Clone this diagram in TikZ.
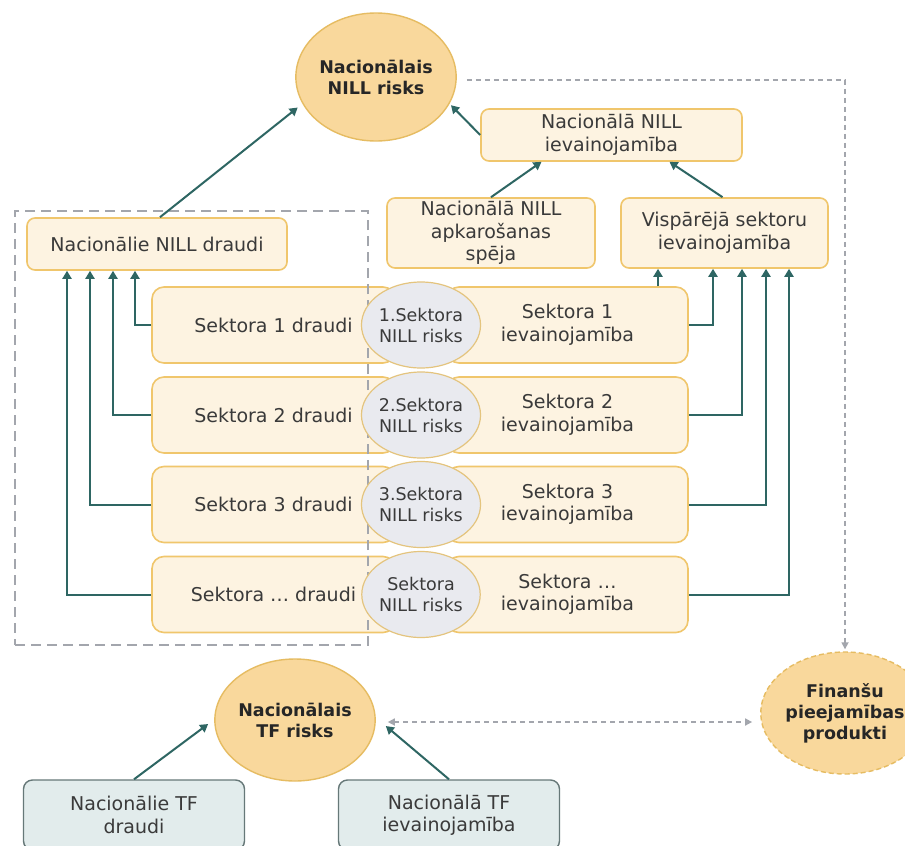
\documentclass[tikz,border=0pt]{standalone}
\usepackage{fontspec}
\setmainfont{DejaVu Sans}
\usetikzlibrary{arrows.meta,shapes.geometric,calc}
\definecolor{boxfill}{HTML}{FDF3E1}
\definecolor{boxline}{HTML}{F0C66C}
\definecolor{bigfill}{HTML}{F9D89C}
\definecolor{bigline}{HTML}{E6BC62}
\definecolor{smallfill}{HTML}{E9EAEF}
\definecolor{smallline}{HTML}{E4C47E}
\definecolor{tffill}{HTML}{E2ECEC}
\definecolor{tfline}{HTML}{667878}
\definecolor{conn}{HTML}{2E6663}
\definecolor{gdashc}{HTML}{A3A6AD}
\definecolor{txt}{HTML}{3A3A3A}
\begin{document}
\begin{tikzpicture}[x=1pt,y=-1pt,
 every node/.style={text=txt, font=\fontsize{19}{22.5}\selectfont, align=center, inner sep=0pt},
 ybox/.style={draw=boxline, fill=boxfill, line width=1.6pt, rounded corners=8pt},
 secbox/.style={ybox, rounded corners=12pt, minimum height=76pt},
 bigc/.style={ellipse, draw=bigline, fill=bigfill, line width=1.4pt, font=\fontsize{17.5}{21}\selectfont\bfseries, text=black!85},
 smallc/.style={ellipse, draw=smallline, fill=smallfill, line width=1.2pt, minimum width=98pt, minimum height=86pt, font=\fontsize{17.5}{21}\selectfont},
 tfbox/.style={draw=tfline, fill=tffill, line width=1.4pt, rounded corners=9pt, minimum width=221pt, minimum height=70pt},
 arr/.style={draw=conn, line width=2pt, -{Triangle[length=8pt,width=9pt]}},
 gdash/.style={draw=gdashc, line width=1.6pt, dash pattern=on 5pt off 4pt, -{Triangle[length=7pt,width=7pt]}},
 grpbox/.style={draw=gdashc, line width=2.6pt, dash pattern=on 10pt off 6pt}
]
\useasboundingbox (0,0) rectangle (905,846);
\clip (0,0) rectangle (905,846);
\fill[white] (0,0) rectangle (905,846);

% top level
\node[bigc, minimum width=128pt, minimum height=128pt] (cNILL) at (376,77) {Nacionālais\\NILL risks};
\node[ybox, minimum width=261pt, minimum height=52pt] (nv) at (611.5,135) {Nacionālā NILL\\ievainojamība};
\node[ybox, minimum width=208pt, minimum height=70pt] (apk) at (491,233) {Nacionālā NILL\\apkarošanas\\spēja};
\node[ybox, minimum width=207pt, minimum height=70pt] (vis) at (724.5,233) {Vispārējā sektoru\\ievainojamība};
\node[ybox, minimum width=260pt, minimum height=52pt] (nd) at (157,244) {Nacionālie NILL draudi};

% sector rows: boxes
\node[secbox, minimum width=243pt] (l1) at (273.5,325) {Sektora 1 draudi};
\node[secbox, minimum width=241pt] (r1) at (567.5,325) {Sektora 1\\ievainojamība};
\node[secbox, minimum width=243pt] (l2) at (273.5,415) {Sektora 2 draudi};
\node[secbox, minimum width=241pt] (r2) at (567.5,415) {Sektora 2\\ievainojamība};
\node[secbox, minimum width=243pt] (l3) at (273.5,504.5) {Sektora 3 draudi};
\node[secbox, minimum width=241pt] (r3) at (567.5,504.5) {Sektora 3\\ievainojamība};
\node[secbox, minimum width=243pt] (l4) at (273.5,594.5) {Sektora … draudi};
\node[secbox, minimum width=241pt] (r4) at (567.5,594.5) {Sektora …\\ievainojamība};

% dashed group frame
\node[grpbox, minimum width=353pt, minimum height=434pt] (grp) at (191.5,428) {};

% sector risk circles
\node[smallc] (c1) at (421,325) {1.Sektora\\NILL risks};
\node[smallc] (c2) at (421,415) {2.Sektora\\NILL risks};
\node[smallc] (c3) at (421,504.5) {3.Sektora\\NILL risks};
\node[smallc] (c4) at (421,594.5) {Sektora\\NILL risks};

% bottom part
\node[bigc, minimum width=128pt, minimum height=122pt] (ctf) at (295,720) {Nacionālais\\TF risks};
\node[bigc, dash pattern=on 5pt off 3pt, minimum width=128pt, minimum height=122pt] (fin) at (845,713) {Finanšu\\pieejamības\\produkti};
\node[tfbox] (tf1) at (134,815) {Nacionālie TF\\draudi};
\node[tfbox] (tf2) at (449,815) {Nacionālā TF\\ievainojamība};

% connectors top
\draw[arr, shorten >=6pt] ([xshift=3pt]nd.north) -- (cNILL.200);
\draw[arr, shorten >=2pt] (nv.west) -- (cNILL.340);
\draw[arr] (apk.north) -- ([xshift=-70pt]nv.south);
\draw[arr] ([xshift=-2pt]vis.north) -- ([xshift=58pt]nv.south);

% left connectors
\draw[arr] (l1.west) -| ([xshift=-22pt]nd.south);
\draw[arr] (l2.west) -| ([xshift=-44pt]nd.south);
\draw[arr] (l3.west) -| ([xshift=-67pt]nd.south);
\draw[arr] (l4.west) -| ([xshift=-90pt]nd.south);

% right connectors
\coordinate (v0) at ([xshift=-66.5pt]vis.south);
\draw[arr] (v0 |- r1.north) -- (v0);
\draw[arr] (r1.east) -| ([xshift=-11.5pt]vis.south);
\draw[arr] (r2.east) -| ([xshift=17.5pt]vis.south);
\draw[arr] (r3.east) -| ([xshift=41.5pt]vis.south);
\draw[arr] (r4.east) -| ([xshift=64.5pt]vis.south);

% grey dashed connectors
\coordinate (g1) at ([xshift=10pt,yshift=-3pt]cNILL.east);
\draw[gdash, shorten >=2pt] (g1) -| (fin.north);
\coordinate (g2) at (ctf.east -| fin.west);
\draw[gdash, {Triangle[length=7pt,width=7pt]}-{Triangle[length=7pt,width=7pt]}] ([xshift=12pt,yshift=-2pt]ctf.east) -- ([xshift=-8pt,yshift=-2pt]g2);

% TF connectors
\draw[arr] (tf1.north) -- ([xshift=-6pt,yshift=-4pt]ctf.west);
\draw[arr] (tf2.north) -- ([xshift=10pt,yshift=-6pt]ctf.east);
\end{tikzpicture}
\end{document}
